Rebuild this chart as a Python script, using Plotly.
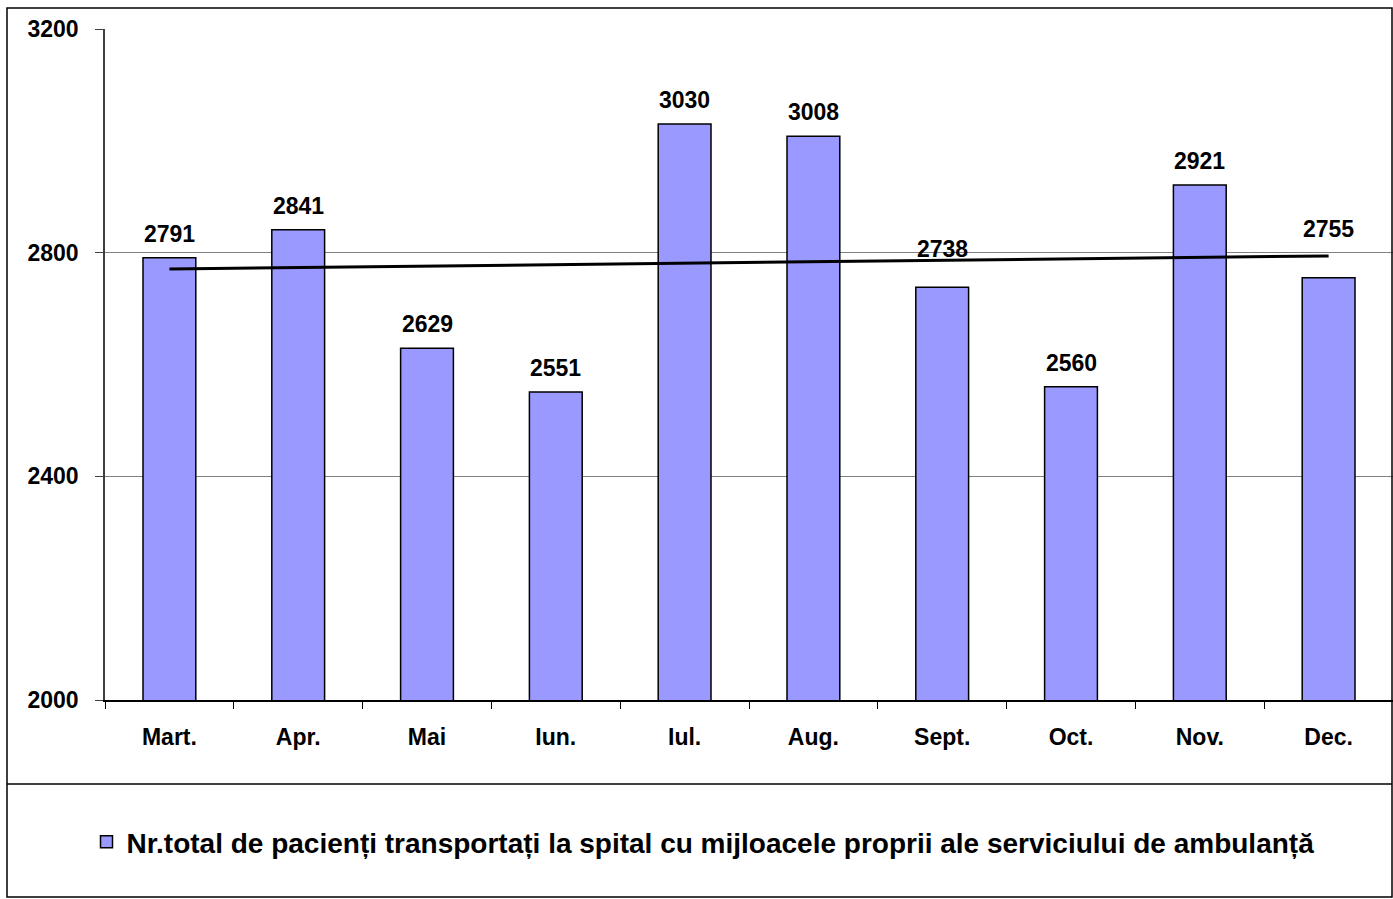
import numpy as np
import plotly.graph_objects as go

months = ["Mart.", "Apr.", "Mai", "Iun.", "Iul.", "Aug.", "Sept.", "Oct.", "Nov.", "Dec."]
patients = [2791, 2841, 2629, 2551, 3030, 3008, 2738, 2560, 2921, 2755]
series_name = "Nr.total de pacienți transportați la spital cu mijloacele proprii ale serviciului de ambulanță"
y_ticks = [2000, 2400, 2800, 3200]

# linear trend computed from the data
idx = np.arange(1, len(patients) + 1)
slope, intercept = np.polyfit(idx, patients, 1)
trend = slope * idx + intercept

FONT = "Liberation Sans, Arial, sans-serif"
W, H = 1393, 899
L, R, T, B = 105, 0, 29, 199
pw, ph = W - L - R, H - T - B
TICK_SIZE = 23
LEG_SIZE = 28

def px_x(p):
    return (p - L) / pw

def px_y(p):
    return (H - B - p) / ph

fig = go.Figure()
fig.add_trace(go.Bar(
    x=months, y=patients, name=f"<b>{series_name}</b>",
    marker=dict(color="#9999FF", line=dict(color="#000000", width=1.5)),
    width=0.41, showlegend=True,
))
fig.add_trace(go.Scatter(
    x=months, y=trend, mode="lines",
    line=dict(color="#000000", width=3), showlegend=False, hoverinfo="skip",
))

label_shift = {"Sept.": 38, "Dec.": 49}
for m, v in zip(months, patients):
    fig.add_annotation(x=m, y=v, text=f"<b>{v}</b>", showarrow=False,
                       yanchor="middle", yshift=label_shift.get(m, 24),
                       font=dict(family=FONT, size=TICK_SIZE, color="#000000"))

shapes = [
    dict(type="rect", xref="paper", yref="paper",
         x0=px_x(7), x1=px_x(1392), y0=px_y(897), y1=px_y(8),
         line=dict(color="#000000", width=1.5), fillcolor="rgba(0,0,0,0)", layer="above"),
    dict(type="line", xref="paper", yref="paper",
         x0=px_x(7), x1=px_x(1392), y0=px_y(784), y1=px_y(784),
         line=dict(color="#000000", width=1.5)),
]

fig.update_layout(
    width=W, height=H,
    margin=dict(l=L, r=R, t=T, b=B, pad=0),
    paper_bgcolor="white", plot_bgcolor="white",
    font=dict(family=FONT, size=TICK_SIZE, color="#000000"),
    shapes=shapes,
    legend=dict(orientation="h", x=px_x(703), xanchor="center",
                y=px_y(842), yanchor="middle",
                font=dict(family=FONT, size=LEG_SIZE, color="#000000"),
                bgcolor="rgba(0,0,0,0)"),
    xaxis=dict(
        type="category", showline=True, linecolor="#000000", linewidth=1.5,
        ticks="outside", tickson="boundaries", ticklen=7, tickcolor="#000000",
        showgrid=False, tickfont=dict(family=FONT, size=TICK_SIZE, color="#000000"),
        ticklabelstandoff=16, range=[-0.5, len(months) - 0.5],
        tickvals=months, ticktext=[f"<b>{m}</b>" for m in months],
    ),
    yaxis=dict(
        range=[2000, 3200], tickvals=y_ticks, ticktext=[f"<b>{t}</b>" for t in y_ticks],
        showline=True, linecolor="#404040", linewidth=1.5,
        ticks="outside", ticklen=8, tickcolor="#404040",
        showgrid=True, gridcolor="#808080", gridwidth=1.2,
        zeroline=False, tickfont=dict(family=FONT, size=TICK_SIZE, color="#000000"),
        ticklabelstandoff=12,
    ),
)

fig.write_html(
    "out.html",
    config={"displayModeBar": False},
    post_script="document.body.style.margin='0px';document.body.style.overflow='hidden';",
)
